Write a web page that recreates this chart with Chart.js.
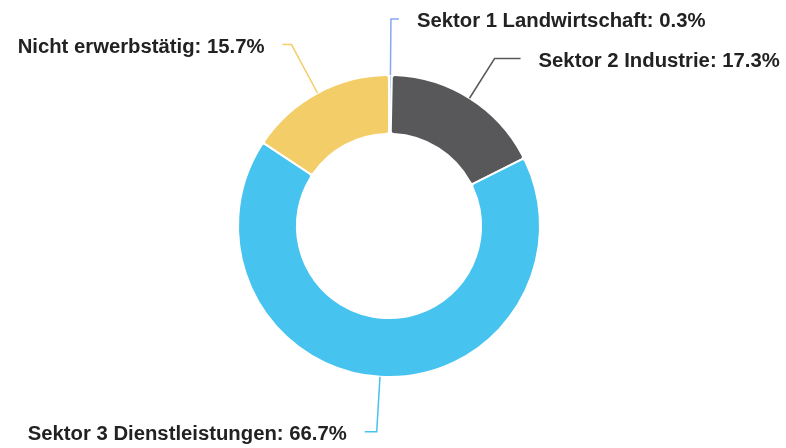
<!DOCTYPE html>
<html>
<head>
<meta charset="utf-8">
<script src="https://cdn.jsdelivr.net/npm/chart.js@4.4.1/dist/chart.umd.min.js"></script>
<style>
  html, body { margin: 0; padding: 0; background: #ffffff; }
  #wrap { width: 786px; height: 448px; position: relative; }
</style>
</head>
<body>
<div id="wrap"><canvas id="c" width="786" height="448"></canvas></div>
<script>
// ---- data ----
const categories = [
  "Sektor 1 Landwirtschaft",
  "Sektor 2 Industrie",
  "Sektor 3 Dienstleistungen",
  "Nicht erwerbstätig"
];
const shares = [0.3, 17.3, 66.7, 15.7];

// ---- styles ----
const sliceColors = ["#86A8F3", "#58585A", "#46C3EF", "#F3CE68"];
// leader line geometry per label: radial length beyond ring, horizontal run
const leaderStyle = [
  { radial: 56, run: 8 },
  { radial: 47, run: 26 },
  { radial: 55, run: 12 },
  { radial: 55, run: 9 }
];
const labelFont = 'bold 20.3px "Liberation Sans", Arial, sans-serif';
const labelColor = "#222222";
const labelGap = 18;

const leaderLabels = {
  id: "leaderLabels",
  afterDatasetsDraw(chart) {
    const ctx = chart.ctx;
    const meta = chart.getDatasetMeta(0);
    const ds = chart.data.datasets[0];
    meta.data.forEach((arc, i) => {
      const p = arc.getProps(["x", "y", "startAngle", "endAngle", "outerRadius"], true);
      const mid = (p.startAngle + p.endAngle) / 2;
      const cos = Math.cos(mid), sin = Math.sin(mid);
      const st = leaderStyle[i];
      const r0 = p.outerRadius;
      const x0 = p.x + cos * r0, y0 = p.y + sin * r0;
      const x1 = p.x + cos * (r0 + st.radial), y1 = p.y + sin * (r0 + st.radial);
      const right = cos >= 0;
      const x2 = x1 + (right ? st.run : -st.run);
      ctx.save();
      ctx.strokeStyle = ds.backgroundColor[i];
      ctx.lineWidth = 1.5;
      ctx.beginPath();
      ctx.moveTo(x0, y0);
      ctx.lineTo(x1, y1);
      ctx.lineTo(x2, y1);
      ctx.stroke();
      ctx.font = labelFont;
      ctx.fillStyle = labelColor;
      ctx.textBaseline = "middle";
      ctx.textAlign = right ? "left" : "right";
      const txt = chart.data.labels[i] + ": " + ds.data[i].toFixed(1) + "%";
      ctx.fillText(txt, x2 + (right ? labelGap : -labelGap), y1 + 2.5);
      ctx.restore();
    });
  }
};

new Chart(document.getElementById("c"), {
  type: "doughnut",
  data: {
    labels: categories,
    datasets: [{
      data: shares,
      backgroundColor: sliceColors,
      borderColor: "#ffffff",
      borderWidth: 2,
      borderRadius: 3
    }]
  },
  options: {
    responsive: false,
    animation: false,
    cutout: "61%",
    layout: { padding: { top: 74, bottom: 70, left: 0, right: 8 } },
    plugins: {
      legend: { display: false },
      tooltip: { enabled: false }
    }
  },
  plugins: [leaderLabels]
});
</script>
</body>
</html>
